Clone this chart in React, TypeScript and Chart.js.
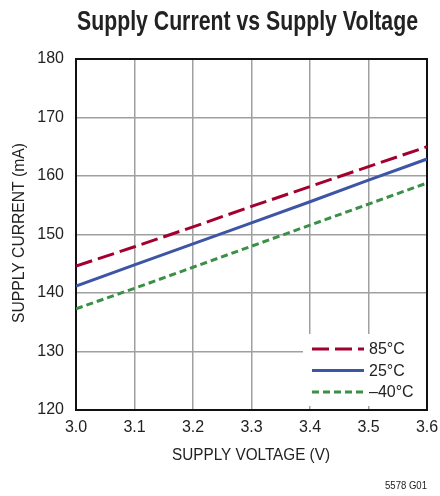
import { useEffect, useRef } from "react";
import Chart from "chart.js/auto";

const voltages = [3.0, 3.1, 3.2, 3.3, 3.4, 3.5, 3.6];
const current85C = [144.6, 147.9, 151.3, 154.8, 158.2, 161.6, 165.0];
const current25C = [141.2, 144.8, 148.4, 152.0, 155.6, 159.3, 162.9];
const currentMinus40C = [137.3, 140.8, 144.4, 148.0, 151.6, 155.2, 158.8];
const seriesLabels = ["85°C", "25°C", "–40°C"];
const seriesColors = ["#a3002f", "#3c55a5", "#3b8f47"];
const seriesDashes: number[][] = [[17, 6], [], [7, 4]];
const titleText = "Supply Current vs Supply Voltage";
const xTitle = "SUPPLY VOLTAGE (V)";
const yTitle = "SUPPLY CURRENT (mA)";
const footnote = "5578 G01";

function fitText(
  ctx: CanvasRenderingContext2D,
  text: string,
  cx: number,
  y: number,
  width: number,
  font: string,
  color: string
) {
  ctx.save();
  ctx.font = font;
  ctx.fillStyle = color;
  ctx.textAlign = "center";
  ctx.textBaseline = "middle";
  const w = ctx.measureText(text).width;
  const s = width / w;
  ctx.translate(cx, y);
  ctx.scale(s, 1);
  ctx.fillText(text, 0, 0);
  ctx.restore();
}

const decorPlugin = {
  id: "decor",
  afterDatasetsDraw(chart: any) {
    const ctx: CanvasRenderingContext2D = chart.ctx;
    const { right, bottom } = chart.chartArea;
    const bx = 303;
    const by = 334;
    ctx.save();
    ctx.fillStyle = "#ffffff";
    ctx.fillRect(bx, by, right - 1 - bx, bottom - 4 - by);
    const rows = [349, 370.5, 392];
    for (let i = 0; i < seriesLabels.length; i++) {
      ctx.beginPath();
      ctx.strokeStyle = seriesColors[i];
      ctx.lineWidth = 3;
      ctx.setLineDash(seriesDashes[i]);
      ctx.moveTo(312, rows[i]);
      ctx.lineTo(364, rows[i]);
      ctx.stroke();
      ctx.setLineDash([]);
      ctx.fillStyle = "#222";
      ctx.font = "16px 'Liberation Sans'";
      ctx.textAlign = "left";
      ctx.textBaseline = "middle";
      ctx.fillText(seriesLabels[i], 369, rows[i] + 1);
    }
    ctx.restore();
  },
  afterDraw(chart: any) {
    const ctx: CanvasRenderingContext2D = chart.ctx;
    fitText(ctx, titleText, 247.5, 23, 341, "bold 27px 'Liberation Sans Narrow', 'Liberation Sans'", "#222");
    fitText(ctx, xTitle, 251, 456, 158, "16px 'Liberation Sans'", "#222");
    fitText(ctx, footnote, 406, 486, 42, "11px 'Liberation Sans'", "#222");
    ctx.save();
    ctx.translate(20, 233);
    ctx.rotate(-Math.PI / 2);
    fitText(ctx, yTitle, 0, 0, 180, "16px 'Liberation Sans'", "#222");
    ctx.restore();
  },
};

export default function App() {
  const ref = useRef<HTMLCanvasElement>(null);
  useEffect(() => {
    document.body.style.margin = "0";
    const makeDs = (label: string, data: number[], i: number) => ({
      label,
      data: voltages.map((v, k) => ({ x: v, y: data[k] })),
      borderColor: seriesColors[i],
      backgroundColor: seriesColors[i],
      borderWidth: 3,
      borderDash: seriesDashes[i],
      pointRadius: 0,
      tension: 0,
      fill: false,
    });
    const zeroPad = (s: any) => {
      s.paddingLeft = 0;
      s.paddingRight = 0;
      s.paddingTop = 0;
      s.paddingBottom = 0;
    };
    const chart = new Chart(ref.current!, {
      type: "line",
      data: {
        datasets: [
          makeDs(seriesLabels[0], current85C, 0),
          makeDs(seriesLabels[1], current25C, 1),
          makeDs(seriesLabels[2], currentMinus40C, 2),
        ],
      },
      options: {
        animation: false,
        responsive: false,
        layout: { padding: { left: 0, right: 13, top: 59, bottom: 0 } },
        plugins: { legend: { display: false }, tooltip: { enabled: false }, title: { display: false } },
        scales: {
          x: {
            type: "linear",
            min: 3.0,
            max: 3.6,
            ticks: {
              stepSize: 0.1,
              callback: (v: any) => Number(v).toFixed(1),
              font: { family: "'Liberation Sans'", size: 16 },
              color: "#222",
              padding: 8,
              maxRotation: 0,
            },
            grid: { color: "#a0a0a0", lineWidth: 1.5, drawTicks: false },
            border: { color: "#111", width: 2 },
            afterFit: (s: any) => {
              s.height = 86;
              zeroPad(s);
            },
          },
          y: {
            min: 120,
            max: 180,
            ticks: {
              stepSize: 10,
              font: { family: "'Liberation Sans'", size: 16 },
              color: "#222",
              padding: 12,
            },
            grid: { color: "#a0a0a0", lineWidth: 1.5, drawTicks: false },
            border: { color: "#111", width: 2 },
            afterFit: (s: any) => {
              s.width = 76;
              zeroPad(s);
            },
          },
          x2: {
            type: "linear",
            position: "top",
            display: true,
            min: 3.0,
            max: 3.6,
            ticks: { display: false },
            grid: { display: false, drawTicks: false },
            border: { color: "#111", width: 2 },
            afterFit: (s: any) => {
              s.height = 0;
              zeroPad(s);
            },
          },
          y2: {
            position: "right",
            display: true,
            min: 120,
            max: 180,
            ticks: { display: false },
            grid: { display: false, drawTicks: false },
            border: { color: "#111", width: 2 },
            afterFit: (s: any) => {
              s.width = 0;
              zeroPad(s);
            },
          },
        },
      } as any,
      plugins: [decorPlugin],
    });
    return () => chart.destroy();
  }, []);
  return <canvas ref={ref} width={440} height={496} style={{ display: "block" }} />;
}
